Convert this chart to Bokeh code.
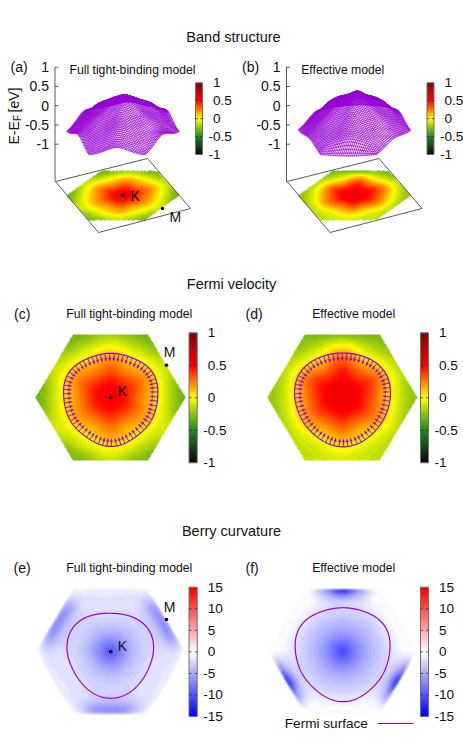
import numpy as np
from bokeh.plotting import figure
from bokeh.models import LinearColorMapper
from bokeh.core.properties import value
from bokeh.embed import file_html
from bokeh.resources import INLINE

# ---------- data ----------
E_TICKS = [1, 0.5, 0, -0.5, -1]
B_TICKS = [15, 10, 5, 0, -5, -10, -15]
Z_TICKS = [1, 0.5, 0, -0.5, -1]

# band energy: rows = fraction of the way from K to the zone edge, columns = direction (0,30..330 deg)
E_RADII = [0, 0.2, 0.4, 0.6, 0.8, 1.0]
E_FULL = [
    [.55, .55, .55, .55, .55, .55, .55, .55, .55, .55, .55, .55],
    [.47, .48, .47, .48, .47, .48, .47, .46, .45, .46, .45, .46],
    [.28, .33, .28, .33, .28, .33, .28, .29, .25, .29, .25, .29],
    [.11, .18, .10, .17, .10, .18, .11, .14, .08, .16, .08, .14],
    [-.11, -.03, -.12, -.05, -.12, -.03, -.11, -.05, -.10, -.02, -.10, -.05],
    [-.33, -.13, -.32, -.20, -.32, -.13, -.33, -.10, -.30, -.12, -.30, -.10],
]
E_EFF = [
    [.56, .56, .56, .56, .56, .56, .56, .56, .56, .56, .56, .56],
    [.52, .52, .52, .52, .52, .52, .52, .51, .50, .51, .50, .51],
    [.36, .42, .36, .44, .36, .42, .36, .36, .30, .34, .30, .36],
    [.15, .24, .13, .26, .13, .24, .15, .18, .10, .16, .10, .18],
    [-.09, -.01, -.12, -.02, -.12, -.01, -.09, -.04, -.08, -.01, -.08, -.04],
    [-.25, -.15, -.30, -.28, -.30, -.15, -.25, -.15, -.14, -.08, -.14, -.15],
]
E_EFF_SURFACE_RIM = [-.30, -.15, -.30, -.28, -.30, -.15, -.30, -.20, -.30, -.34, -.30, -.20]

# Berry curvature: one 120 deg sector, columns = direction 0,15..105 deg
B_RADII = [0, .15, .3, .45, .6, .75, .87, .95, 1.0]
B_FULL = [
    [-9.5] * 8,
    [-7.0] * 8,
    [-4.5, -4.5, -4.6, -4.5, -4.5, -4.3, -4.3, -4.3],
    [-3.0, -3.0, -3.0, -3.0, -3.0, -2.8, -2.8, -2.8],
    [-2.3, -2.4, -2.6, -2.4, -2.3, -2.0, -2.0, -2.0],
    [-2.0, -3.4, -3.8, -3.4, -2.0, -1.6, -1.5, -1.6],
    [-2.2, -5.5, -6.2, -5.5, -2.4, -1.5, -1.4, -1.4],
    [-1.5, -5.0, -5.8, -5.0, -1.6, -1.2, -1.2, -1.1],
    [-0.2, -2.0, -2.5, -2.0, -0.2, -0.7, -0.8, -0.7],
]
B_EFF = [
    [-10.5] * 8,
    [-8.0] * 8,
    [-5.5] * 8,
    [-3.8] * 8,
    [-2.5, -2.5, -2.4, -2.5, -2.5, -2.6, -2.7, -2.6],
    [-1.2, -1.0, -1.0, -1.0, -1.2, -2.3, -3.0, -2.3],
    [-0.4, -0.3, -0.3, -0.3, -0.6, -4.0, -7.5, -4.0],
    [-0.2, -0.1, -0.1, -0.1, -0.4, -5.5, -11.0, -5.5],
    [0.0, 0.0, 0.0, 0.0, 0.0, -2.0, -5.0, -2.0],
]

# Fermi contour radius in px of the panels, directions 0,15..345 deg
FS_C = [47.5, 47.9, 48.3, 46.7, 45, 44.5, 44.7, 44.8, 45, 46.7, 48.2, 47.9,
        48, 48, 46, 44.8, 45.9, 48.7, 50.3, 48.7, 46, 44.8, 46, 48]
FS_D = [47.7, 48, 48.7, 48, 46.2, 45.2, 44.7, 45.2, 46.2, 48, 48.7, 48.5,
        49, 48.4, 46.5, 44.3, 47, 49.5, 50.3, 49.5, 47, 44.3, 46.5, 48.4]
FS_E = [43.3, 43.9, 42.8, 41.8, 40.2, 39.3, 39, 39.3, 40.5, 43, 44.8, 44.7,
        44.3, 42.7, 41.8, 42, 44, 46.8, 47, 46.8, 44, 41.5, 41.3, 42.3]
FS_F = [47, 48.3, 48.6, 47.8, 45.2, 44.4, 44, 44.4, 45.2, 47.8, 48.6, 48.3,
        48.3, 47.3, 46.4, 44.6, 47.3, 49.9, 50.7, 49.9, 47.3, 44.6, 46.4, 47.3]

# ---------- helpers ----------
FONT = value("Liberation Sans")
VIOLET = "#9400D3"
DARK = "#303030"
S3 = np.sqrt(3) / 2


def mix(anchors, n):
    pos = np.array([a[0] for a in anchors], float)
    rgb = np.array([a[1] for a in anchors], float)
    t = np.linspace(0, 1, n)
    return ["#%02x%02x%02x" % tuple(int(round(np.interp(s, pos, rgb[:, k]))) for k in range(3)) for s in t]


E_MAP = LinearColorMapper(
    palette=mix([(0, (12, 12, 12)), (.25, (34, 139, 34)), (.5, (255, 255, 0)),
                 (.75, (255, 0, 0)), (1, (125, 8, 8))], 64),
    low=-1, high=1, nan_color="rgba(0,0,0,0)")
B_MAP = LinearColorMapper(
    palette=mix([(0, (0, 0, 255)), (.5, (255, 255, 255)), (1, (255, 0, 0))], 64),
    low=-15, high=15, nan_color="rgba(0,0,0,0)")


def cr(t):
    return [(-t + 2 * t**2 - t**3) / 2, (2 - 5 * t**2 + 3 * t**3) / 2,
            (t + 4 * t**2 - 3 * t**3) / 2, (-t**2 + t**3) / 2]


def field(x, y, tab, radii, step, period):
    """Read a polar table at unit-zone coordinates (corner at radius 1)."""
    tab = np.array(tab, float)
    nr, na = tab.shape
    th = np.degrees(np.arctan2(y, x)) % 360
    bound = S3 / np.cos(np.radians((th % 60) - 30))
    r = np.hypot(x, y)
    f0 = r / bound
    w = np.minimum(f0, 1.0) ** 6
    f = r / (bound * w + 0.93 * (1 - w))
    ri = np.interp(np.minimum(f, 1.0), radii, np.arange(nr))
    ai = (th % period) / step
    r0 = np.minimum(np.floor(ri).astype(int), nr - 2)
    a0 = np.floor(ai).astype(int)
    rw, aw = cr(ri - r0), cr(ai - a0)
    out = np.zeros_like(x, dtype=float)
    for p_ in range(4):
        for q in range(4):
            out += rw[p_] * aw[q] * tab[np.clip(r0 + p_ - 1, 0, nr - 1), (a0 + q - 1) % na]
    return out, f0


def Y(py):
    return 748 - np.asarray(py, dtype=float)


p = figure(width=463, height=748, x_range=(0, 463), y_range=(0, 748), output_backend="svg",
           toolbar_location=None, x_axis_location=None, y_axis_location=None,
           min_border=0, outline_line_color=None, background_fill_color="white")
p.grid.visible = False


def txt(x, y, s, size=14, align="left", angle=0.0, color="#111111"):
    p.text([x], [Y(y)], text=[s], text_font=FONT, text_font_size=value(f"{size}px"),
           text_align=align, text_baseline="middle", angle=angle, text_color=color)


def flat_map(cx, cy, tab, radii, step, period, mapper):
    Rx, Ry = 75.0, 63.0
    x0, y0 = int(cx - Rx) - 1, int(cy - Ry) - 1
    w, h = int(2 * Rx) + 3, int(2 * Ry) + 3
    px, py = np.meshgrid(x0 + .5 + np.arange(w), y0 + h - .5 - np.arange(h))
    x, y = (px - cx) / Rx, (cy - py) / Ry * S3
    v, f = field(x, y, tab, radii, step, period)
    v[f > 1] = np.nan
    p.image(image=[v], x=x0, y=Y(y0 + h), dw=w, dh=h, color_mapper=mapper)


def floor_map(cx, cy, tab, mapper):
    x0, y0, w, h = int(cx) - 60, int(cy) - 27, 120, 54
    px, py = np.meshgrid(x0 + .5 + np.arange(w), y0 + h - .5 - np.arange(h))
    v_ = (cy - py) / 24.5
    u_ = (px - cx - 6 * v_) / 56.5
    v, f = field(u_, v_ * S3, tab, E_RADII, 30, 360)
    v[f > 1] = np.nan
    p.image(image=[v], x=x0, y=Y(y0 + h), dw=w, dh=h, color_mapper=mapper)


def surface(cx, cy, tab):
    N = 30
    xs, ys = [], []
    for fam in range(2):
        for j in range(-N, N + 1):
            lo, hi = max(-N, -N - j), min(N, N - j)
            i = np.arange(lo, hi + .5, 0.5)
            if fam == 0:
                a, b = i, np.full_like(i, j, dtype=float)
            else:
                a, b = np.full_like(i, j, dtype=float), i
            u = (a + .5 * b) / N
            vv = b / N
            e, _ = field(u, vv * S3, tab, E_RADII, 30, 360)
            xs.append(cx + 56.5 * u + 6 * vv)
            ys.append(Y(cy - 24.5 * vv - (e + 2) * 38.5))
    p.multi_line(xs, ys, line_color=VIOLET, line_width=0.8)


def colorbar(x0, x1, y0, y1, low, high, ticks, mapper):
    vals = np.linspace(low, high, int(y1 - y0))[:, None]
    p.image(image=[vals], x=x0, y=Y(y1), dw=x1 - x0, dh=y1 - y0, color_mapper=mapper)
    p.line([x0, x1, x1, x0, x0], Y([y0, y0, y1, y1, y0]), line_color="#707070", line_width=1)
    for t in ticks:
        yy = y1 - (t - low) / (high - low) * (y1 - y0)
        if low < t < high:
            p.segment([x0, x1 - 2.5], Y([yy, yy]), [x0 + 2.5, x1], Y([yy, yy]), line_color=DARK, line_width=0.8)
        lab = f"{t:g}"
        txt(x1 + (10.5 if t >= 0 else 6), yy, lab, 13.6)


def fermi(cx, cy, radii, arrows):
    r = np.array(radii, float)
    n = len(r)
    spec = np.fft.rfft(r) / n
    th = np.linspace(0, 2 * np.pi, 481)[:-1]
    rr = spec[0].real + sum(2 * (spec[k] * np.exp(1j * k * th)).real for k in (1, 2, 3, 6))
    x, y = cx + rr * np.cos(th), cy - rr * np.sin(th)
    if arrows:
        dx, dy = np.roll(x, -1) - np.roll(x, 1), np.roll(y, -1) - np.roll(y, 1)
        s = np.cumsum(np.hypot(dx, dy) / 2)
        pick = np.searchsorted(s, np.linspace(0, s[-1], 65)[:-1] + 1)
        pick = np.minimum(pick, len(x) - 1)
        nx, ny = -dy[pick], dx[pick]
        ln = np.hypot(nx, ny)
        nx, ny = nx / ln, ny / ln
        sign = np.sign((cx - x[pick]) * nx + (cy - y[pick]) * ny)
        nx, ny = nx * sign, ny * sign
        tx, ty = x[pick] + 7.8 * nx, y[pick] + 7.8 * ny
        bx, by = x[pick] + 4.6 * nx, y[pick] + 4.6 * ny
        p.segment(x[pick], Y(y[pick]), bx, Y(by), line_color=VIOLET, line_width=0.9)
        hx = [[tx[k], bx[k] - 1.3 * ny[k], bx[k] + 1.3 * ny[k]] for k in range(len(tx))]
        hy = [[Y(ty[k]), Y(by[k] + 1.3 * nx[k]), Y(by[k] - 1.3 * nx[k])] for k in range(len(tx))]
        p.patches(hx, hy, fill_color=VIOLET, line_color=VIOLET, line_width=0.3)
    p.line(np.r_[x, x[0]], Y(np.r_[y, y[0]]), line_color=VIOLET, line_width=1.2)


def dot(x, y):
    p.scatter([x], [Y(y)], marker="circle", size=3.6, fill_color="black", line_color="black", line_width=0)


# ---------- top row ----------
txt(233, 36, "Band structure", 14.5, "center")
txt(231, 283, "Fermi velocity", 14.5, "center")
txt(231, 530, "Berry curvature", 14.5, "center")

E_EFF_SURF = [row[:] for row in E_EFF[:-1]] + [E_EFF_SURFACE_RIM]
for off, tab, surf, tag, sub, sub_x in [(0.0, E_FULL, E_FULL, "(a)", "Full tight-binding model", 69),
                                        (231.5, E_EFF, E_EFF_SURF, "(b)", "Effective model", 300.7)]:
    floor_map(122.5 + off, 195, tab, E_MAP)
    surface(122.5 + off, 195, surf)
    corners = np.array([55, 147, 190, 98, 55]) + off
    p.line(corners, Y([181, 158, 208, 232, 181]), line_color=DARK, line_width=0.8)
    ax = 54.5 + off
    p.line([ax, ax], Y([66.5, 181]), line_color=DARK, line_width=0.8)
    for t in Z_TICKS:
        yy = 105.2 - t * 38.5
        p.segment([ax], Y([yy]), [ax + 3.5], Y([yy]), line_color=DARK, line_width=0.8)
        txt(ax - 6, yy, f"{t:g}", 14, "right")
    txt(10 + off, 66.7, tag)
    txt(sub_x, 69.3, sub, 12.2)
    colorbar(195 + off, 202 + off, 82.3, 154, -1, 1, E_TICKS, E_MAP)

dot(122.5, 194.5)
txt(130, 195, "K")
dot(162, 208)
txt(169, 216.5, "M")
p.text([13], Y([144]), text=["E-E"], text_font=FONT, text_font_size=value("14px"),
       text_align="left", text_baseline="middle", angle=np.pi / 2, text_color="#111111")
p.text([17], Y([120.5]), text=["F"], text_font=FONT, text_font_size=value("10px"),
       text_align="left", text_baseline="middle", angle=np.pi / 2, text_color="#111111")
p.text([13], Y([112]), text=["[eV]"], text_font=FONT, text_font_size=value("14px"),
       text_align="left", text_baseline="middle", angle=np.pi / 2, text_color="#111111")

# ---------- middle row ----------
flat_map(110, 397, E_FULL, E_RADII, 30, 360, E_MAP)
flat_map(341.8, 397, E_EFF, E_RADII, 30, 360, E_MAP)
fermi(110.3, 397, FS_C, True)
fermi(342.3, 397, FS_D, True)
colorbar(188.5, 196.7, 332.3, 462.3, -1, 1, E_TICKS, E_MAP)
colorbar(420, 428, 332.3, 462.3, -1, 1, E_TICKS, E_MAP)
txt(13.5, 313, "(c)")
txt(65.7, 313, "Full tight-binding model", 12.2)
txt(245, 313, "(d)")
txt(311.7, 313, "Effective model", 12.2)
dot(110.3, 397)
txt(117.3, 390, "K")
dot(166, 364.7)
txt(163.3, 351.7, "M")

# ---------- bottom row ----------
flat_map(110, 651, B_FULL, B_RADII, 15, 120, B_MAP)
flat_map(342, 651, B_EFF, B_RADII, 15, 120, B_MAP)
fermi(110.3, 651, FS_E, False)
fermi(342.3, 651, FS_F, False)
colorbar(188.5, 196.7, 586.7, 716, -15, 15, B_TICKS, B_MAP)
colorbar(420, 428, 586.7, 716, -15, 15, B_TICKS, B_MAP)
txt(13, 567, "(e)")
txt(65.7, 567, "Full tight-binding model", 12.2)
txt(245, 567, "(f)")
txt(311.7, 567, "Effective model", 12.2)
dot(110.3, 651.3)
txt(117.3, 645, "K")
dot(166, 619)
txt(163.3, 606.3, "M")
txt(284.3, 723, "Fermi surface", 13.6)
p.line([377, 413], Y([723, 723]), line_color=VIOLET, line_width=1.1)

open("out.html", "w").write(file_html(p, INLINE))
